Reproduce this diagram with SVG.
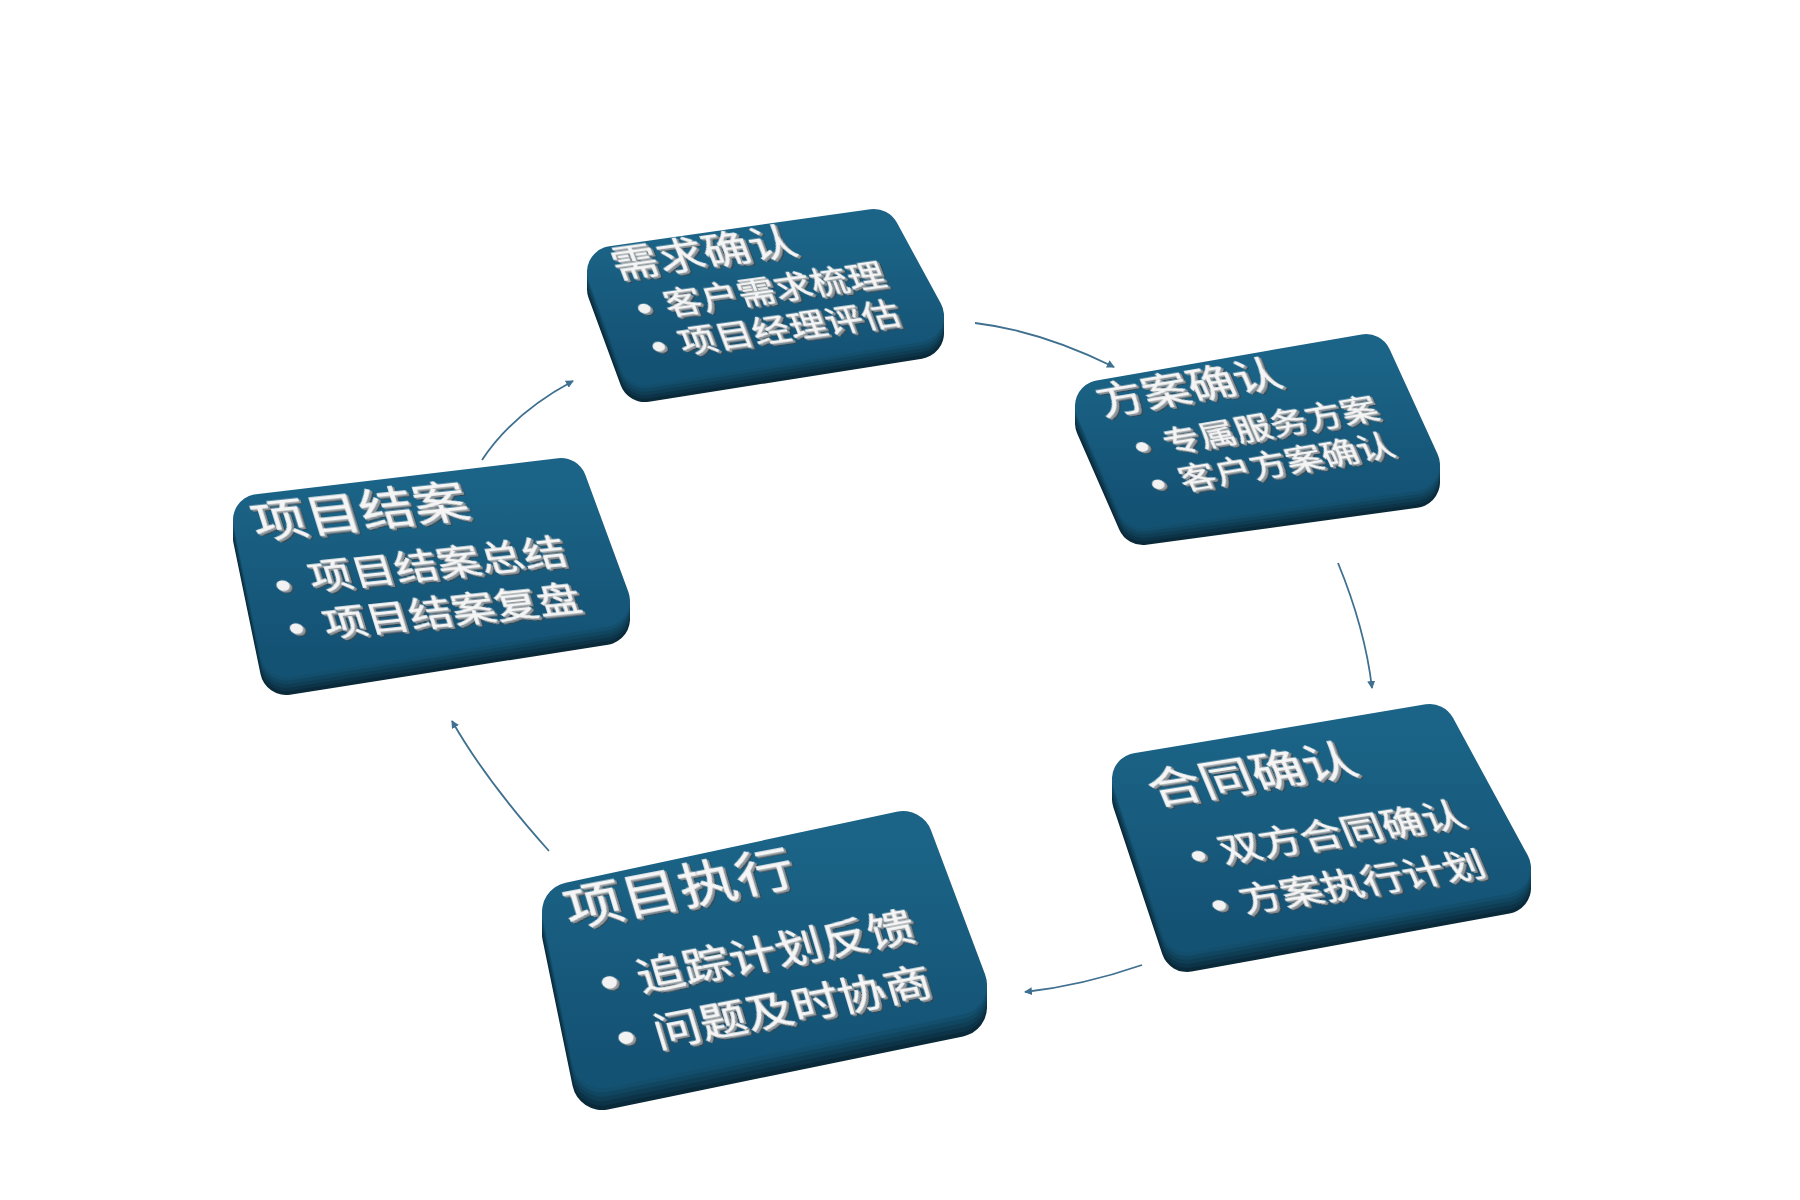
<svg xmlns="http://www.w3.org/2000/svg" xmlns:xlink="http://www.w3.org/1999/xlink" width="1800" height="1200" viewBox="0 0 1800 1200">
<defs>
  <linearGradient id="gFace" x1="0" y1="0" x2="0" y2="1">
    <stop offset="0" stop-color="#1b6487"/>
    <stop offset="1" stop-color="#145274"/>
  </linearGradient>
  <filter id="t3d" x="-10%" y="-15%" width="125%" height="140%">
    <feFlood flood-color="#8d979d" result="f"/>
    <feComposite in="f" in2="SourceAlpha" operator="in" result="c"/>
    <feOffset in="c" dx="1.2" dy="1.4" result="o1"/>
    <feOffset in="c" dx="2.2" dy="2.7" result="o2"/>
    <feFlood flood-color="#33434c" result="f2"/>
    <feComposite in="f2" in2="SourceAlpha" operator="in" result="c2"/>
    <feOffset in="c2" dx="3.1" dy="3.8" result="o3"/>
    <feMerge>
      <feMergeNode in="o3"/>
      <feMergeNode in="o2"/>
      <feMergeNode in="o1"/>
      <feMergeNode in="SourceGraphic"/>
    </feMerge>
  </filter>
  <marker id="arr" markerWidth="10" markerHeight="10" refX="7" refY="4" orient="auto" markerUnits="userSpaceOnUse">
    <path d="M0,0 L8,4 L0,8 Z" fill="#3f7090"/>
  </marker>
  <polygon id="p1" points="613,272 874,235 918,316 645,359" stroke-width="52" stroke-linejoin="round"/>
  <polygon id="p2" points="1101,406 1366,360 1414,465 1143,502" stroke-width="52" stroke-linejoin="round"/>
  <polygon id="p3" points="1138,779 1430,730 1505,868 1187,926" stroke-width="52" stroke-linejoin="round"/>
  <polygon id="p4" points="572,912 903,841 957,985 602,1058" stroke-width="60" stroke-linejoin="round"/>
  <polygon id="p5" points="259,520 561,484 604,601 286,651" stroke-width="52" stroke-linejoin="round"/>
</defs>
<style>
  .face{fill:url(#gFace);stroke:url(#gFace)}
  .s1{fill:#0a2a3a;stroke:#0a2a3a}
  .s2{fill:#0c3347;stroke:#0c3347}
  .s3{fill:#0f3d54;stroke:#0f3d54}
  .s4{fill:#114661;stroke:#114661}
  .s5{fill:#134e6c;stroke:#134e6c}
  .txt{filter:url(#t3d)}
  .t{font-family:"Noto Sans CJK SC","Noto Sans",sans-serif;fill:#f5f5f5;stroke:#f5f5f5;stroke-width:0.5}
  .dot{fill:#f2f2f2}
  .conn{fill:none;stroke:#3f7090;stroke-width:1.8;marker-end:url(#arr)}
</style>
<rect width="1800" height="1200" fill="#ffffff"/>

<g id="connectors">
  <path class="conn" d="M975,323 Q1041.5,331 1114,367"/>
  <path class="conn" d="M1338,563 Q1365,628.5 1372,688"/>
  <path class="conn" d="M1142,965 Q1082.5,985.5 1025,992"/>
  <path class="conn" d="M549,851 Q485.5,780 452,721"/>
  <path class="conn" d="M482,460 Q512.5,413.5 573,381"/>
</g>

<g id="node-xuqiu">
  <use href="#p1" class="s1" transform="translate(0,17)"/>
  <use href="#p1" class="s2" transform="translate(0,13.6)"/>
  <use href="#p1" class="s3" transform="translate(0,10.2)"/>
  <use href="#p1" class="s4" transform="translate(0,6.8)"/>
  <use href="#p1" class="s5" transform="translate(0,3.4)"/>
  <use href="#p1" class="face"/>
  <g class="txt" transform="matrix(0.990,-0.137,0.302,0.795,617,278)">
    <text class="t" x="0" y="0" font-size="46">需求确认</text>
    <circle class="dot" cx="15" cy="41" r="6"/>
    <text class="t" x="36" y="53" font-size="37">客户需求梳理</text>
    <circle class="dot" cx="15" cy="89" r="6"/>
    <text class="t" x="36" y="101" font-size="37">项目经理评估</text>
  </g>
</g>

<g id="node-fangan">
  <use href="#p2" class="s1" transform="translate(0,17)"/>
  <use href="#p2" class="s2" transform="translate(0,13.6)"/>
  <use href="#p2" class="s3" transform="translate(0,10.2)"/>
  <use href="#p2" class="s4" transform="translate(0,6.8)"/>
  <use href="#p2" class="s5" transform="translate(0,3.4)"/>
  <use href="#p2" class="face"/>
  <g class="txt" transform="matrix(0.986,-0.166,0.336,0.781,1103,415)">
    <text class="t" x="0" y="0" font-size="46">方案确认</text>
    <circle class="dot" cx="24" cy="46" r="6"/>
    <text class="t" x="46" y="58.3" font-size="36">专属服务方案</text>
    <circle class="dot" cx="24" cy="94" r="6"/>
    <text class="t" x="46" y="106" font-size="36">客户方案确认</text>
  </g>
</g>

<g id="node-hetong">
  <use href="#p3" class="s1" transform="translate(0,20)"/>
  <use href="#p3" class="s2" transform="translate(0,16)"/>
  <use href="#p3" class="s3" transform="translate(0,12)"/>
  <use href="#p3" class="s4" transform="translate(0,8)"/>
  <use href="#p3" class="s5" transform="translate(0,4)"/>
  <use href="#p3" class="face"/>
  <g class="txt" transform="matrix(0.988,-0.154,0.329,0.784,1155,805)">
    <text class="t" x="0" y="0" font-size="52">合同确认</text>
    <circle class="dot" cx="21" cy="69" r="6.5"/>
    <text class="t" x="43" y="82.2" font-size="41">双方合同确认</text>
    <circle class="dot" cx="21" cy="132" r="6.5"/>
    <text class="t" x="43" y="145.3" font-size="41">方案执行计划</text>
  </g>
</g>

<g id="node-zhixing">
  <use href="#p4" class="s1" transform="translate(0,22)"/>
  <use href="#p4" class="s2" transform="translate(0,17.6)"/>
  <use href="#p4" class="s3" transform="translate(0,13.2)"/>
  <use href="#p4" class="s4" transform="translate(0,8.8)"/>
  <use href="#p4" class="s5" transform="translate(0,4.4)"/>
  <use href="#p4" class="face"/>
  <g class="txt" transform="matrix(0.982,-0.187,0.244,0.814,570,927)">
    <text class="t" x="0" y="0" font-size="58">项目执行</text>
    <circle class="dot" cx="22" cy="73" r="7.5"/>
    <text class="t" x="50" y="91.1" font-size="47">追踪计划反馈</text>
    <circle class="dot" cx="22" cy="141" r="7.5"/>
    <text class="t" x="50" y="159.3" font-size="47">问题及时协商</text>
  </g>
</g>

<g id="node-jiean">
  <use href="#p5" class="s1" transform="translate(0,18)"/>
  <use href="#p5" class="s2" transform="translate(0,14.4)"/>
  <use href="#p5" class="s3" transform="translate(0,10.8)"/>
  <use href="#p5" class="s4" transform="translate(0,7.2)"/>
  <use href="#p5" class="s5" transform="translate(0,3.6)"/>
  <use href="#p5" class="face"/>
  <g class="txt" transform="matrix(0.9945,-0.104,0.252,0.812,257,538)">
    <text class="t" x="0" y="0" font-size="54">项目结案</text>
    <circle class="dot" cx="11" cy="60" r="6.5"/>
    <text class="t" x="38.6" y="69" font-size="43">项目结案总结</text>
    <circle class="dot" cx="11" cy="113" r="6.5"/>
    <text class="t" x="38.6" y="126.8" font-size="43">项目结案复盘</text>
  </g>
</g>
</svg>
